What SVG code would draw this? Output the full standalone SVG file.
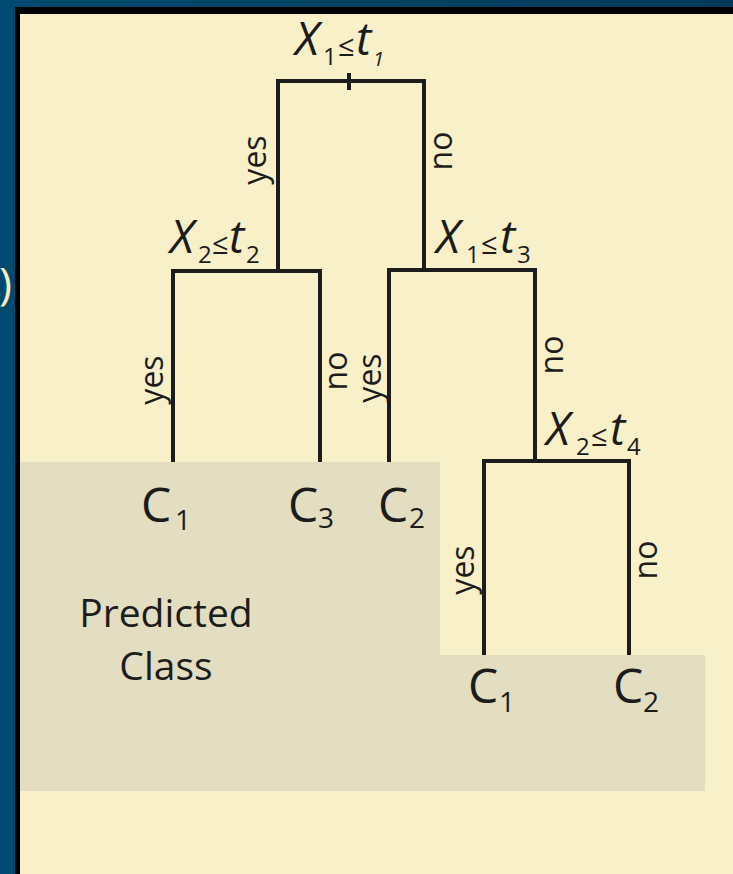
<svg xmlns="http://www.w3.org/2000/svg" width="733" height="874" viewBox="0 0 733 874">
<defs>
<linearGradient id="bg" x1="0" y1="0" x2="1" y2="0">
<stop offset="0" stop-color="#01496f"/>
<stop offset="1" stop-color="#023a58"/>
</linearGradient>
<style>
text{font-family:"Open Sans","Noto Sans","Liberation Sans",sans-serif;fill:#1c1c1c}
.var{font-size:46px;font-style:italic}
.sub{font-size:24px}
.le{font-size:29px}
.leaf{font-size:48px}
.lsub{font-size:28px}
.yn{font-size:32px;text-anchor:middle}
.pc{font-size:39px;text-anchor:middle}
.ln{fill:none;stroke:#1c1c1c;stroke-width:4;stroke-linecap:butt}
</style>
</defs>
<rect x="0" y="0" width="733" height="874" fill="url(#bg)"/>
<rect x="15" y="7" width="718" height="867" fill="#000"/>
<rect x="20" y="14" width="713" height="860" fill="#f7f0c8"/>
<text x="-1" y="299" style="font-size:44px;fill:#f5efc5">)</text>
<path d="M20,462 H440 V655 H705 V791 H20 Z" fill="#e3ddc1"/>

<g id="connectors">
<path class="ln" d="M278,273 V81 H424 V272" stroke-linejoin="miter"/>
<path class="ln" d="M349,73 V90"/>
<path class="ln" d="M173,462 V271 H320 V462" stroke-linejoin="miter"/>
<path class="ln" d="M389,462 V270 H535 V461" stroke-linejoin="miter"/>
<path class="ln" d="M484,655 V461 H629 V655" stroke-linejoin="miter"/>
<text class="yn" transform="translate(266,160) rotate(-90)">yes</text>
<text class="yn" transform="translate(452,151) rotate(-90)">no</text>
<text class="yn" transform="translate(163,380) rotate(-90)">yes</text>
<text class="yn" transform="translate(347,371) rotate(-90)">no</text>
<text class="yn" transform="translate(381,378) rotate(-90)">yes</text>
<text class="yn" transform="translate(563,355) rotate(-90)">no</text>
<text class="yn" transform="translate(474,570) rotate(-90)">yes</text>
<text class="yn" transform="translate(657,560) rotate(-90)">no</text>
</g>

<g id="node-root">
<text><tspan class="var" x="295" y="55">X</tspan><tspan class="sub" x="323" y="65">1</tspan><tspan class="le" x="338" y="56">≤</tspan><tspan class="var" x="356" y="55">t</tspan><tspan class="sub" x="373" y="66" style="font-size:20px;font-style:italic">1</tspan></text>
</g>
<g id="node-left">
<text><tspan class="var" x="170" y="253">X</tspan><tspan class="sub" x="198" y="263">2</tspan><tspan class="le" x="212" y="254">≤</tspan><tspan class="var" x="229" y="253">t</tspan><tspan class="sub" x="246" y="263">2</tspan></text>
</g>
<g id="node-right">
<text><tspan class="var" x="436" y="253">X</tspan><tspan class="sub" x="466" y="263">1</tspan><tspan class="le" x="481" y="254">≤</tspan><tspan class="var" x="500" y="253">t</tspan><tspan class="sub" x="517" y="263">3</tspan></text>
</g>
<g id="node-rr">
<text><tspan class="var" x="546" y="445">X</tspan><tspan class="sub" x="576" y="455">2</tspan><tspan class="le" x="591" y="446">≤</tspan><tspan class="var" x="610" y="445">t</tspan><tspan class="sub" x="627" y="455">4</tspan></text>
</g>

<g id="leaf-c1a"><text><tspan class="leaf" x="141" y="522">C</tspan><tspan class="lsub" x="175" y="530">1</tspan></text></g>
<g id="leaf-c3"><text><tspan class="leaf" x="288" y="522">C</tspan><tspan class="lsub" x="318" y="528">3</tspan></text></g>
<g id="leaf-c2a"><text><tspan class="leaf" x="378" y="522">C</tspan><tspan class="lsub" x="409" y="528">2</tspan></text></g>
<g id="leaf-c1b"><text><tspan class="leaf" x="468" y="703">C</tspan><tspan class="lsub" x="499" y="712">1</tspan></text></g>
<g id="leaf-c2b"><text><tspan class="leaf" x="613" y="703">C</tspan><tspan class="lsub" x="643" y="712">2</tspan></text></g>

<g id="predicted-class">
<text class="pc" x="166" y="627">Predicted</text>
<text class="pc" x="166" y="680">Class</text>
</g>
</svg>
